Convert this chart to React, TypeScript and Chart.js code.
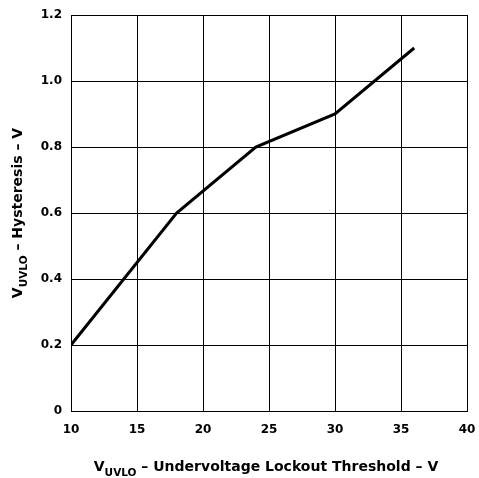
import React, { useEffect, useRef } from "react";
import { Chart, registerables } from "chart.js";

Chart.register(...registerables);

const thresholdV = [10, 18, 24, 30, 36];
const hysteresisV = [0.2, 0.6, 0.8, 0.9, 1.1];
const xTitleParts = ["V", "UVLO", " \u2013 Undervoltage Lockout Threshold \u2013 V"];
const yTitleParts = ["V", "UVLO", " \u2013 Hysteresis \u2013 V"];

const FONT = "'DejaVu Sans', 'Liberation Sans', Arial, sans-serif";

function drawSubTitle(ctx: CanvasRenderingContext2D, parts: string[], cx: number, baseline: number, rotate: boolean) {
  const big = `bold 14px ${FONT}`;
  const small = `bold 10.5px ${FONT}`;
  ctx.save();
  if (rotate) {
    ctx.translate(baseline, cx);
    ctx.rotate(-Math.PI / 2);
  } else {
    ctx.translate(cx, baseline);
  }
  ctx.fillStyle = "#000";
  ctx.textBaseline = "alphabetic";
  ctx.textAlign = "left";
  ctx.font = big;
  const w0 = ctx.measureText(parts[0]).width;
  const w2 = ctx.measureText(parts[2]).width;
  ctx.font = small;
  const w1 = ctx.measureText(parts[1]).width;
  const total = w0 + w1 + w2;
  let x = -total / 2;
  ctx.font = big;
  ctx.fillText(parts[0], x, 0);
  x += w0;
  ctx.font = small;
  ctx.fillText(parts[1], x, 5);
  x += w1;
  ctx.font = big;
  ctx.fillText(parts[2], x, 0);
  ctx.restore();
}

const titlePlugin = {
  id: "subTitles",
  afterDraw(chart: any) {
    const { ctx, chartArea } = chart;
    const cx = (chartArea.left + chartArea.right) / 2 - 3;
    const cy = (chartArea.top + chartArea.bottom) / 2;
    drawSubTitle(ctx, xTitleParts, cx, 471, false);
    drawSubTitle(ctx, yTitleParts, cy, 22, true);
  },
};

export default function App() {
  const ref = useRef<HTMLCanvasElement>(null);
  useEffect(() => {
    document.body.style.margin = "0";
    const chart = new Chart(ref.current!, {
      type: "line",
      data: {
        datasets: [
          {
            data: thresholdV.map((x, i) => ({ x, y: hysteresisV[i] })),
            borderColor: "#000",
            borderWidth: 3,
            pointRadius: 0,
            tension: 0,
            fill: false,
          },
        ],
      },
      options: {
        animation: false,
        responsive: false,
        devicePixelRatio: 1,
        layout: { padding: { left: 0, right: 12, top: 15, bottom: 0 } },
        plugins: { legend: { display: false }, tooltip: { enabled: false } },
        scales: {
          x: {
            type: "linear",
            min: 10,
            max: 40,
            ticks: {
              stepSize: 5,
              color: "#000",
              padding: 12,
              maxRotation: 0,
              font: { family: FONT, size: 12, weight: "bold" },
            },
            grid: { color: "#000", lineWidth: 1, drawTicks: false },
            border: { color: "#000", width: 1 },
            afterFit: (s: any) => {
              s.height = 67;
              s.paddingLeft = 0;
              s.paddingRight = 0;
            },
          },
          y: {
            min: 0,
            max: 1.2,
            ticks: {
              stepSize: 0.2,
              color: "#000",
              padding: 9,
              font: { family: FONT, size: 12, weight: "bold" },
              callback: (v: any) => (Number(v) === 0 ? "0" : Number(v).toFixed(1)),
            },
            grid: { color: "#000", lineWidth: 1, drawTicks: false },
            border: { color: "#000", width: 1 },
            afterFit: (s: any) => {
              s.width = 71;
              s.paddingTop = 0;
              s.paddingBottom = 0;
            },
          },
        },
      },
      plugins: [titlePlugin],
    });
    return () => chart.destroy();
  }, []);
  return <canvas ref={ref} width={479} height={478} style={{ display: "block" }} />;
}
